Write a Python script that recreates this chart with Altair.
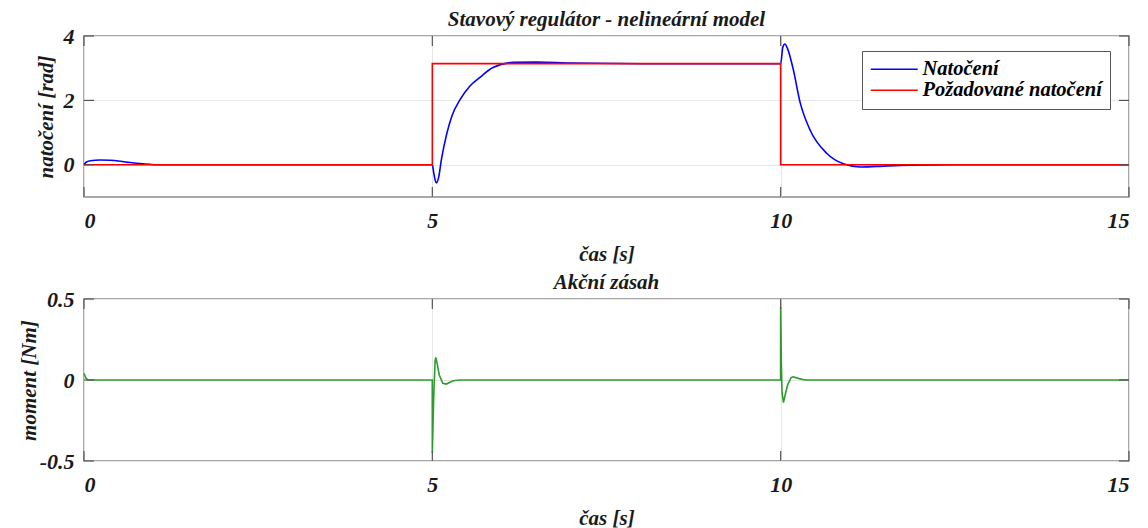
import altair as alt
import pandas as pd

# ---------------- data ----------------
t_nat = [0, 0.03, 0.09, 0.23, 0.37, 0.52, 0.66, 0.85, 1.1, 1.5, 5.0, 5.02, 5.04, 5.06,
         5.09, 5.13, 5.21, 5.28, 5.4, 5.54, 5.68, 5.87, 6.16, 6.5, 7.0, 8.0, 10.0, 10.03, 10.06,
         10.1, 10.18, 10.28, 10.42, 10.66, 10.9, 11.14, 11.38, 11.86, 12.5, 15]
v_nat = [0, 0.08, 0.125, 0.15, 0.14, 0.11, 0.07, 0.03, 0.0, 0, 0, -0.25, -0.47, -0.56,
         -0.4, 0.16, 0.99, 1.51, 2.03, 2.45, 2.71, 3.02, 3.18, 3.19, 3.16, 3.14, 3.14, 3.64, 3.75,
         3.6, 2.97, 1.93, 1.09, 0.36, 0.03, -0.07, -0.05, -0.01, 0, 0]

t_ref = [0, 5, 10, 15]
v_ref = [0, 3.1416, 0, 0]

t_mom = [0, 0.03, 0.06, 4.999, 5.0, 5.02, 5.04, 5.05, 5.07, 5.1, 5.15, 5.2, 5.3, 5.4,
         9.999, 10.0, 10.01, 10.02, 10.04, 10.06, 10.1, 10.15, 10.18, 10.25, 10.35, 15]
v_mom = [0.04, 0.01, 0, 0, -0.45, -0.1, 0.12, 0.14, 0.1, 0.03, -0.02, -0.025, -0.005, 0,
         0, 0.45, 0.1, -0.08, -0.14, -0.1, -0.03, 0.015, 0.02, 0.01, 0, 0]

x_ticks = [0, 5, 10, 15]
y_ticks_top = [0, 2, 4]
y_ticks_bot = [-0.5, 0, 0.5]

series_names = ["Natočení", "Požadované natočení"]
series_colors = ["#0000ff", "#ff0000"]

# ---------------- style ----------------
FONT = "Liberation Serif"
W = 1045
H1 = 161
H2 = 162
TICK = "#555555"
TL = 10

df_nat = pd.DataFrame({"t": t_nat, "v": v_nat, "s": series_names[0]})
df_ref = pd.DataFrame({"t": t_ref, "v": v_ref, "s": series_names[1]})
df_mom = pd.DataFrame({"t": t_mom, "v": v_mom})


def xaxis():
    return alt.X("t:Q", scale=alt.Scale(domain=[0, 15], nice=False),
                 axis=alt.Axis(values=x_ticks, title="čas [s]", format="d"))


def tick_layers(yticks, h):
    xt = pd.DataFrame({"t": x_ticks})
    yt = pd.DataFrame({"v": yticks})
    base_x = alt.Chart(xt).mark_rule(color=TICK, strokeWidth=1.2)
    base_y = alt.Chart(yt).mark_rule(color=TICK, strokeWidth=1.2)
    return [
        base_x.encode(x="t:Q", y=alt.value(0), y2=alt.value(TL)),
        base_x.encode(x="t:Q", y=alt.value(h - TL), y2=alt.value(h)),
        base_y.encode(y="v:Q", x=alt.value(0), x2=alt.value(TL)),
        base_y.encode(y="v:Q", x=alt.value(W - TL), x2=alt.value(W)),
    ]


color = alt.Color(
    "s:N",
    scale=alt.Scale(domain=series_names, range=series_colors),
    legend=alt.Legend(
        title=None, orient="none", legendX=778, legendY=15,
        fillColor="white", strokeColor="#555555", padding=8,
        symbolType="M-4,0H4", symbolSize=138, symbolStrokeWidth=1.5,
        symbolOffset=14, labelOffset=18,
        labelFont=FONT, labelFontSize=20.5, labelFontStyle="italic",
        labelFontWeight="bold", labelColor="black", rowPadding=0, labelLimit=400,
    ),
)

ytop = alt.Y("v:Q", scale=alt.Scale(domain=[-1, 4], nice=False),
             axis=alt.Axis(values=y_ticks_top, title="natočení [rad]", format="d"))

nat = alt.Chart(df_nat).mark_line(strokeWidth=1.6, interpolate="monotone").encode(
    x=xaxis(), y=ytop, color=color)
ref = alt.Chart(df_ref).mark_line(strokeWidth=1.6, interpolate="step-after").encode(
    x=xaxis(), y=ytop, color=color)

top = alt.layer(nat, ref, *tick_layers(y_ticks_top, H1)).properties(
    width=W, height=H1, title="Stavový regulátor - nelineární model")

ybot = alt.Y("v:Q", scale=alt.Scale(domain=[-0.5, 0.5], nice=False),
             axis=alt.Axis(values=y_ticks_bot, title="moment [Nm]", titlePadding=0,
                           labelExpr="datum.value == 0 ? '0' : (datum.value < 0 ? '-' + format(-datum.value, '.1f') : format(datum.value, '.1f'))"))
mom = alt.Chart(df_mom).mark_line(strokeWidth=1.6, color="#2f9a2f").encode(
    x=xaxis(), y=ybot)

bottom = alt.layer(mom, *tick_layers(y_ticks_bot, H2)).properties(
    width=W, height=H2, title="Akční zásah")

chart = alt.vconcat(top, bottom, spacing=6).properties(
    padding={"left": 17, "top": 8, "right": 5, "bottom": 5}
).configure_view(
    stroke="#8c8c8c", strokeWidth=1.5
).configure_axis(
    domain=False, ticks=False, grid=True, gridColor="#e6e6e6", gridWidth=1,
    labelFont=FONT, labelFontSize=22, labelFontStyle="italic", labelFontWeight="bold",
    labelColor="#1a1a1a", labelPadding=10,
    titleFont=FONT, titleFontSize=21, titleFontStyle="italic", titleFontWeight="bold",
    titleColor="#1a1a1a", titlePadding=7,
).configure_axisX(
    labelPadding=13, titlePadding=12,
).configure_title(
    font=FONT, fontSize=21, fontStyle="italic", fontWeight="bold", color="#1a1a1a",
    offset=-5, anchor="middle", baseline="alphabetic",
)

chart.save("out.html", embed_options={"renderer": "svg", "actions": False})
